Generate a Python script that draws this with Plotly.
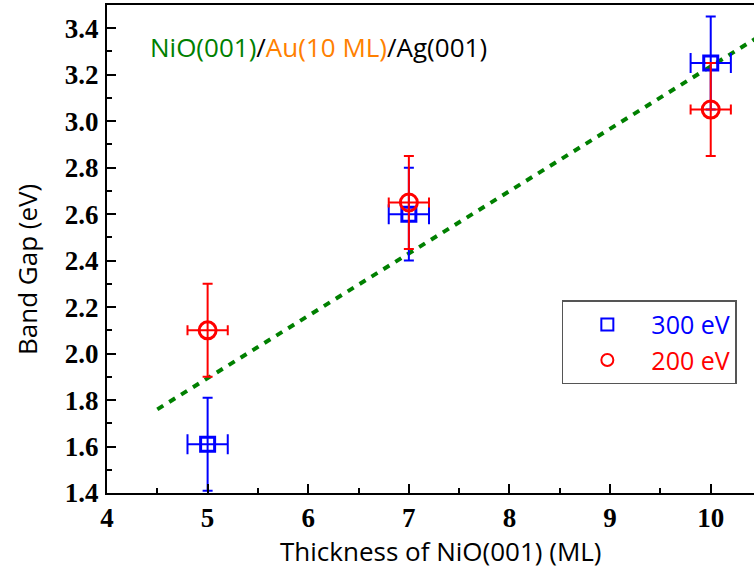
import plotly.graph_objects as go

# Data
thickness = [5, 7, 10]
gap_300 = [1.61, 2.60, 3.25]
gap_200 = [2.10, 2.65, 3.05]
yerr_300 = [0.2, 0.2, 0.2]
yerr_200 = [0.2, 0.2, 0.2]
xerr = [0.2, 0.2, 0.2]
fit_x = [4.5, 10.5]
fit_y = [1.76, 3.37]

BLUE = "#0000FF"
RED = "#FF0000"
GREEN = "#008000"
SANS = "Open Sans"
SERIF = "Liberation Serif"

fig = go.Figure()

fig.add_trace(go.Scatter(
    x=fit_x, y=fit_y, mode="lines",
    line=dict(color=GREEN, width=4, dash="7px,7px"),
    showlegend=False, hoverinfo="skip"))

fig.add_trace(go.Scatter(
    x=thickness, y=gap_300, mode="markers",
    name='<span style="color:#0000FF">300 eV</span>',
    marker=dict(symbol="square-open", size=14, color=BLUE, line=dict(width=3, color=BLUE)),
    error_y=dict(type="data", array=yerr_300, color=BLUE, thickness=2, width=5),
    error_x=dict(type="data", array=xerr, color=BLUE, thickness=2, width=10),
))

fig.add_trace(go.Scatter(
    x=thickness, y=gap_200, mode="markers",
    name='<span style="color:#FF0000">200 eV</span>',
    marker=dict(symbol="circle-open", size=17, color=RED, line=dict(width=3, color=RED)),
    error_y=dict(type="data", array=yerr_200, color=RED, thickness=2, width=5),
    error_x=dict(type="data", array=xerr, color=RED, thickness=2, width=5),
))

fig.add_annotation(
    xref="paper", yref="paper", x=0.0634, y=0.914, xanchor="left", yanchor="middle",
    text='<span style="color:#008000">NiO(001)</span><span style="color:#000000">/</span>'
         '<span style="color:#FF8000">Au(10 ML)</span><span style="color:#000000">/Ag(001)</span>',
    showarrow=False, font=dict(family=SANS, size=26, color="black"))

# axis titles
fig.add_annotation(
    xref="paper", yref="paper", x=0.516, y=-0.118, xanchor="center", yanchor="middle",
    text="Thickness of NiO(001) (ML)", showarrow=False,
    font=dict(family=SANS, size=26, color="black"))
fig.add_annotation(
    xref="paper", yref="paper", x=-0.1236, y=0.457, xanchor="center", yanchor="middle",
    text="Band Gap (eV)", textangle=-90, showarrow=False,
    font=dict(family=SANS, size=26, color="black"))

fig.update_layout(
    width=754, height=581,
    margin=dict(l=107, r=0, t=5, b=88),
    paper_bgcolor="white", plot_bgcolor="white",
    showlegend=True,
    legend=dict(x=0.703, y=0.395, xanchor="left", yanchor="top",
                bordercolor="#555555", borderwidth=1.5, bgcolor="white",
                font=dict(family=SANS, size=25), itemsizing="constant",
                itemwidth=78, tracegroupgap=0),
    xaxis=dict(range=[4, 10.43], showgrid=False, zeroline=False,
               showline=True, linecolor="black", linewidth=2, mirror=True,
               ticks="inside", ticklen=9, tickwidth=2, tickcolor="black",
               dtick=1, tick0=4,
               minor=dict(dtick=0.5, ticks="inside", ticklen=5, tickwidth=2, tickcolor="black"),
               tickfont=dict(family=SERIF, size=27, color="black", weight="bold"),
               ticklabelstandoff=0),
    yaxis=dict(range=[1.4, 3.5], showgrid=False, zeroline=False,
               showline=True, linecolor="black", linewidth=2,
               ticks="inside", ticklen=9, tickwidth=2, tickcolor="black",
               dtick=0.2, tick0=1.4, tickformat=".1f",
               minor=dict(dtick=0.1, ticks="inside", ticklen=5, tickwidth=2, tickcolor="black"),
               tickfont=dict(family=SERIF, size=27, color="black", weight="bold"),
               ticklabelstandoff=1),
)

fig.write_html("out.html", config={"displayModeBar": False},
               post_script="document.body.style.margin='0';")
